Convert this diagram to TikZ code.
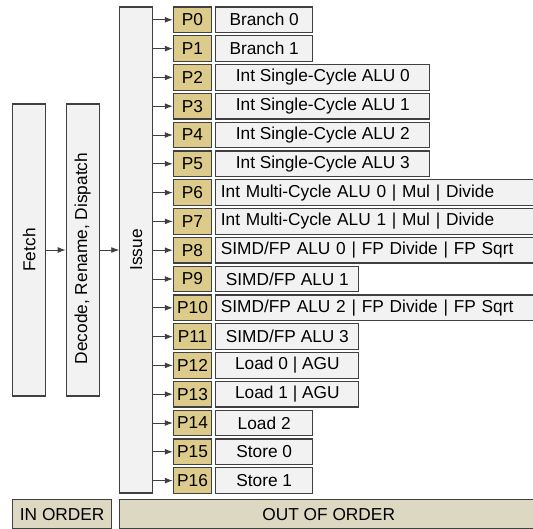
\documentclass[tikz,border=0pt]{standalone}
\usepackage{fontspec}
\setmainfont{Liberation Sans}
\usetikzlibrary{arrows.meta,positioning}
\definecolor{unitgray}{HTML}{F2F2F2}
\definecolor{porttan}{HTML}{DDCB8B}
\definecolor{bandtan}{HTML}{DDD8C2}
\definecolor{edgegray}{HTML}{404040}

\begin{document}
\begin{tikzpicture}[x=1pt, y=-1pt,
    font=\fontsize{17.3}{20}\selectfont,
    stage/.style={draw=edgegray, line width=1.1pt, fill=unitgray, minimum width=33pt, inner sep=0pt},
    portbox/.style={draw=edgegray, line width=1.1pt, fill=porttan, minimum width=38.4pt, minimum height=25.6pt, inner sep=0pt},
    unitbox/.style={draw=edgegray, line width=1.1pt, fill=unitgray, minimum height=25.6pt, inner sep=0pt},
    longbox/.style={unitbox, text width=308.7pt, inner xsep=5pt, align=left},
    band/.style={draw=edgegray, line width=1.1pt, fill=bandtan, minimum height=29pt, inner sep=0pt},
    feed/.style={-{Latex[length=8pt,width=6pt]}, draw=edgegray, line width=0.9pt}]
    \useasboundingbox (0,0) rectangle (533,528);

    % Pipeline stages
    \node[stage, minimum height=292pt] (fetch) at (29.2,250) {\rotatebox{90}{Fetch}};
    \node[stage, minimum height=292pt] (decode) at (82.7,250) {\rotatebox{90}{Decode, Rename, Dispatch\hspace{17pt}}};
    \node[stage, minimum height=486pt] (issue) at (136.3,250) {\rotatebox{90}{Issue}};
    \draw[feed] (fetch) -- (decode);
    \draw[feed] (decode) -- (issue);

    % Issue ports and execution units
    \foreach \i/\txt/\w/\kind [evaluate=\i as \y using 19.8+28.8*\i] in {
        0/Branch 0/96.7/unitbox,
        1/Branch 1/96.7/unitbox,
        2/Int Single-Cycle ALU 0/214/unitbox,
        3/Int Single-Cycle ALU 1/214/unitbox,
        4/Int Single-Cycle ALU 2/214/unitbox,
        5/Int Single-Cycle ALU 3/214/unitbox,
        6/Int Multi-Cycle ALU 0 | Mul | Divide/318.7/longbox,
        7/Int Multi-Cycle ALU 1 | Mul | Divide/318.7/longbox,
        8/{SIMD/FP ALU 0 | FP Divide | FP Sqrt}/318.7/longbox,
        9/{SIMD/FP ALU 1}/143/unitbox,
        10/{SIMD/FP ALU 2 | FP Divide | FP Sqrt}/318.7/longbox,
        11/{SIMD/FP ALU 3}/143/unitbox,
        12/Load 0 | AGU/143/unitbox,
        13/Load 1 | AGU/143/unitbox,
        14/Load 2/96.7/unitbox,
        15/Store 0/96.7/unitbox,
        16/Store 1/96.7/unitbox} {
        \node[portbox] (p\i) at (192.5,\y) {P\i};
        \node[\kind, minimum width=\w pt, anchor=west] (u\i) at (215.3,\y) {\txt};
        \draw[feed] (issue.east |- p\i.west) -- (p\i.west);
    }

    % Ordering bands
    \node[band, minimum width=99pt] (inorder) at (62.2,514.3) {IN ORDER};
    \node[band, minimum width=418.7pt] (outorder) at (328.7,514.3) {OUT OF ORDER};
\end{tikzpicture}
\end{document}
